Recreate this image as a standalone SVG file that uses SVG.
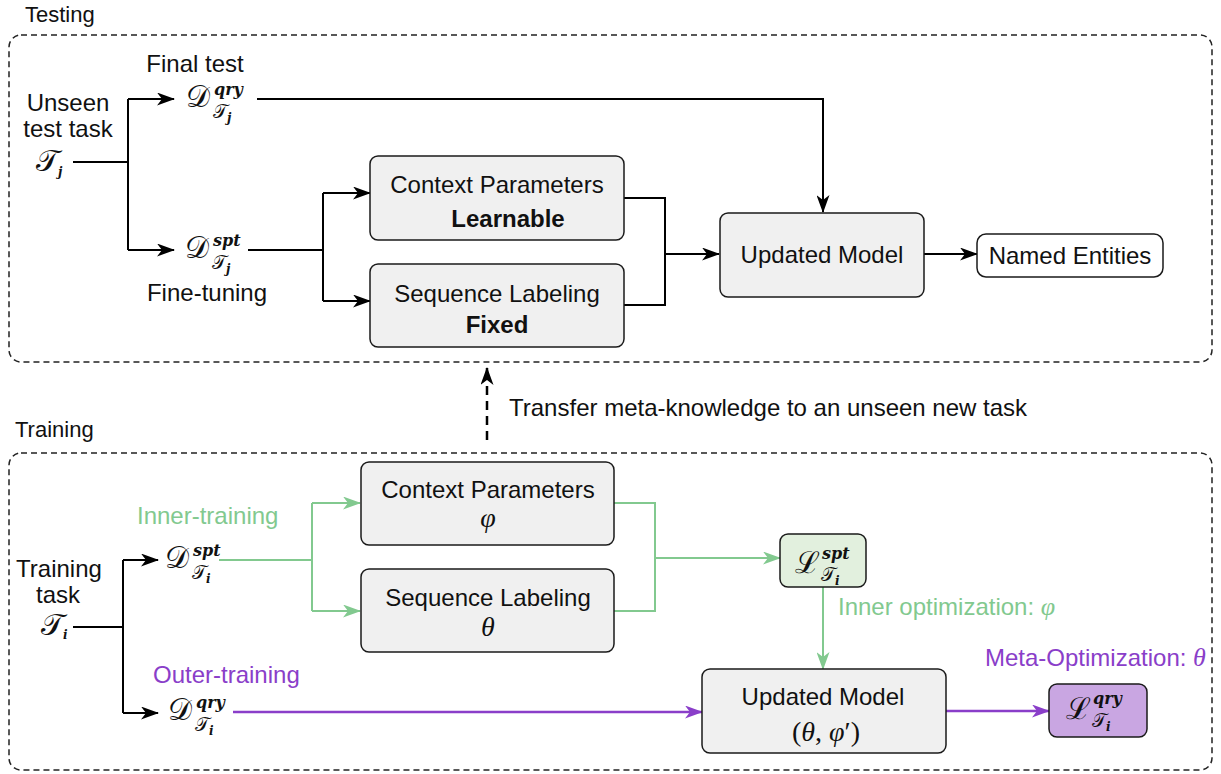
<svg xmlns="http://www.w3.org/2000/svg" width="1221" height="774" viewBox="0 0 1221 774">
<style>
.t{font-family:"Liberation Sans",Arial,sans-serif;font-size:24px;fill:#111}
.ttl{font-family:"Liberation Sans",Arial,sans-serif;font-size:22px;fill:#111}
.b{font-weight:bold}
.mid{text-anchor:middle}
.cal{font-family:"DejaVu Serif","Liberation Serif",serif;font-size:30px;fill:#111}
.sup{font-family:"DejaVu Serif","Liberation Serif",serif;font-style:italic;font-weight:bold;font-size:16px;fill:#111}
.scal{font-family:"DejaVu Serif","Liberation Serif",serif;font-size:19px;fill:#111}
.si{font-family:"DejaVu Serif","Liberation Serif",serif;font-style:italic;font-weight:bold;font-size:12px;fill:#111}
.mi{font-family:"Liberation Serif",serif;font-style:italic;font-size:28px;fill:#111}
.mr{font-family:"Liberation Serif",serif;font-size:28px;fill:#111}
.frame{fill:none;stroke:#222;stroke-width:1.5;stroke-dasharray:6 4}
.box{fill:#f0f0f0;stroke:#1a1a1a;stroke-width:1.5}
.k{fill:none;stroke:#000;stroke-width:2}
.g{fill:none;stroke:#82c98f;stroke-width:2}
.p{fill:none;stroke:#8a3ec9;stroke-width:2.5}
.gt{fill:#82c98f}
.pt{fill:#8a3ec9}
</style>
<defs>
<marker id="ak" viewBox="0 0 18 13" refX="17" refY="6.5" markerWidth="18" markerHeight="13" markerUnits="userSpaceOnUse" orient="auto"><path d="M0,0 L18,6.5 L0,13 L5,6.5 z" fill="#000"/></marker>
<marker id="ag" viewBox="0 0 18 13" refX="17" refY="6.5" markerWidth="18" markerHeight="13" markerUnits="userSpaceOnUse" orient="auto"><path d="M0,0 L18,6.5 L0,13 L5,6.5 z" fill="#82c98f"/></marker>
<marker id="ap" viewBox="0 0 18 13" refX="17" refY="6.5" markerWidth="18" markerHeight="13" markerUnits="userSpaceOnUse" orient="auto"><path d="M0,0 L18,6.5 L0,13 L5,6.5 z" fill="#8a3ec9"/></marker>
<marker id="ad" viewBox="0 0 12 16" refX="6" refY="1" markerWidth="12" markerHeight="16" markerUnits="userSpaceOnUse" orient="0"><path d="M6,0 L12,16 L6,12 L0,16 z" fill="#000"/></marker>
</defs>

<g id="testing-frame">
<text class="ttl" x="25" y="22">Testing</text>
<rect class="frame" x="9" y="35" width="1203" height="327" rx="12"/>
</g>
<g id="training-frame">
<text class="ttl" x="15" y="437">Training</text>
<rect class="frame" x="9" y="453" width="1203" height="317" rx="12"/>
</g>

<g id="connectors">
<path class="k" d="M73,162 H128 M128,99 V250"/>
<path class="k" d="M128,99 H174" marker-end="url(#ak)"/>
<path class="k" d="M128,250 H174" marker-end="url(#ak)"/>
<path class="k" d="M257,99 H823 V212" marker-end="url(#ak)"/>
<path class="k" d="M248,250 H323 M323,193 V301"/>
<path class="k" d="M323,193 H370" marker-end="url(#ak)"/>
<path class="k" d="M323,301 H370" marker-end="url(#ak)"/>
<path class="k" d="M624,198 H665 V305 H624"/>
<path class="k" d="M665,254 H719" marker-end="url(#ak)"/>
<path class="k" d="M924,254 H977" marker-end="url(#ak)"/>
<path d="M487,440 V372" fill="none" stroke="#000" stroke-width="2.5" stroke-dasharray="9 6"/>
<path d="M487,380 V368" fill="none" stroke="#000" stroke-width="2.5" marker-end="url(#ak)"/>
<path class="k" d="M73,627 H123 M123,560 V713"/>
<path class="k" d="M123,560 H158" marker-end="url(#ak)"/>
<path class="k" d="M123,713 H158" marker-end="url(#ak)"/>
<path class="g" d="M219,560 H312 M312,503 V611"/>
<path class="g" d="M312,503 H360" marker-end="url(#ag)"/>
<path class="g" d="M312,611 H360" marker-end="url(#ag)"/>
<path class="g" d="M614,503 H655 V611 H614"/>
<path class="g" d="M655,558 H780" marker-end="url(#ag)"/>
<path class="g" d="M823,587 V669" marker-end="url(#ag)"/>
<path class="p" d="M233,712 H702" marker-end="url(#ap)"/>
<path class="p" d="M946,711 H1049" marker-end="url(#ap)"/>
</g>

<g id="unseen-task">
<text class="t mid" x="68" y="111">Unseen</text>
<text class="t mid" x="68" y="137">test task</text>
<text class="cal" x="36" y="171">𝒯</text><text class="si" x="58" y="176">j</text>
</g>
<g id="final-test">
<text class="t mid" x="195" y="72">Final test</text>
<text class="cal" x="186" y="107">𝒟</text><text class="sup" x="214" y="95">qry</text>
<text class="scal" x="213" y="118">𝒯</text><text class="si" x="227" y="122">j</text>
</g>
<g id="fine-tuning">
<text class="cal" x="185" y="258">𝒟</text><text class="sup" x="213" y="246">spt</text>
<text class="scal" x="212" y="269">𝒯</text><text class="si" x="226" y="273">j</text>
<text class="t mid" x="207" y="301">Fine-tuning</text>
</g>
<g id="ctx-test">
<rect class="box" x="370" y="156" width="254" height="84" rx="8"/>
<text class="t mid" x="497" y="193">Context Parameters</text>
<text class="t b mid" x="508" y="227">Learnable</text>
</g>
<g id="seq-test">
<rect class="box" x="370" y="264" width="254" height="83" rx="8"/>
<text class="t mid" x="497" y="302">Sequence Labeling</text>
<text class="t b mid" x="497" y="333">Fixed</text>
</g>
<g id="updated-test">
<rect class="box" x="720" y="213" width="204" height="84" rx="8"/>
<text class="t mid" x="822" y="263">Updated Model</text>
</g>
<g id="named-entities">
<rect x="977" y="234" width="186" height="43" rx="9" fill="#fff" stroke="#1a1a1a" stroke-width="1.5"/>
<text class="t mid" x="1070" y="264">Named Entities</text>
</g>

<g id="transfer-label">
<text class="t" x="509" y="416">Transfer meta-knowledge to an unseen new task</text>
</g>

<g id="training-task">
<text class="t mid" x="59" y="577">Training</text>
<text class="t mid" x="58" y="603">task</text>
<text class="cal" x="41" y="635">𝒯</text><text class="si" x="63" y="639">i</text>
</g>
<g id="inner-training">
<text class="t gt" x="137" y="524">Inner-training</text>
<text class="cal" x="165" y="568">𝒟</text><text class="sup" x="193" y="556">spt</text>
<text class="scal" x="192" y="579">𝒯</text><text class="si" x="206" y="583">i</text>
</g>
<g id="outer-training">
<text class="t pt" x="153" y="683">Outer-training</text>
<text class="cal" x="168" y="720">𝒟</text><text class="sup" x="196" y="708">qry</text>
<text class="scal" x="195" y="731">𝒯</text><text class="si" x="209" y="735">i</text>
</g>
<g id="ctx-train">
<rect class="box" x="361" y="462" width="253" height="83" rx="8"/>
<text class="t mid" x="488" y="498">Context Parameters</text>
<text class="mi mid" x="488" y="527">φ</text>
</g>
<g id="seq-train">
<rect class="box" x="361" y="569" width="253" height="83" rx="8"/>
<text class="t mid" x="488" y="606">Sequence Labeling</text>
<text class="mi mid" x="488" y="636">θ</text>
</g>
<g id="loss-spt">
<rect x="780" y="534" width="86" height="53" rx="8" fill="#e2f0de" stroke="#1a1a1a" stroke-width="1.5"/>
<text class="cal" x="795" y="573">ℒ</text><text class="sup" x="822" y="559">spt</text>
<text class="scal" x="821" y="581">𝒯</text><text class="si" x="835" y="585">i</text>
</g>
<g id="inner-opt">
<text class="t gt" x="838" y="615">Inner optimization: <tspan font-family="Liberation Serif" font-style="italic" font-size="26">φ</tspan></text>
</g>
<g id="updated-train">
<rect class="box" x="702" y="669" width="244" height="84" rx="8"/>
<text class="t mid" x="823" y="705">Updated Model</text>
<text class="mr mid" x="826" y="741">(<tspan font-style="italic">θ</tspan>, <tspan font-style="italic">φ</tspan>′)</text>
</g>
<g id="meta-opt">
<text class="t pt" x="985" y="666">Meta-Optimization: <tspan font-family="Liberation Serif" font-style="italic" font-size="26">θ</tspan></text>
</g>
<g id="loss-qry">
<rect x="1049" y="684" width="98" height="53" rx="8" fill="#c9a6e2" stroke="#1a1a1a" stroke-width="1.5"/>
<text class="cal" x="1066" y="719">ℒ</text><text class="sup" x="1093" y="704">qry</text>
<text class="scal" x="1092" y="727">𝒯</text><text class="si" x="1106" y="731">i</text>
</g>
</svg>
